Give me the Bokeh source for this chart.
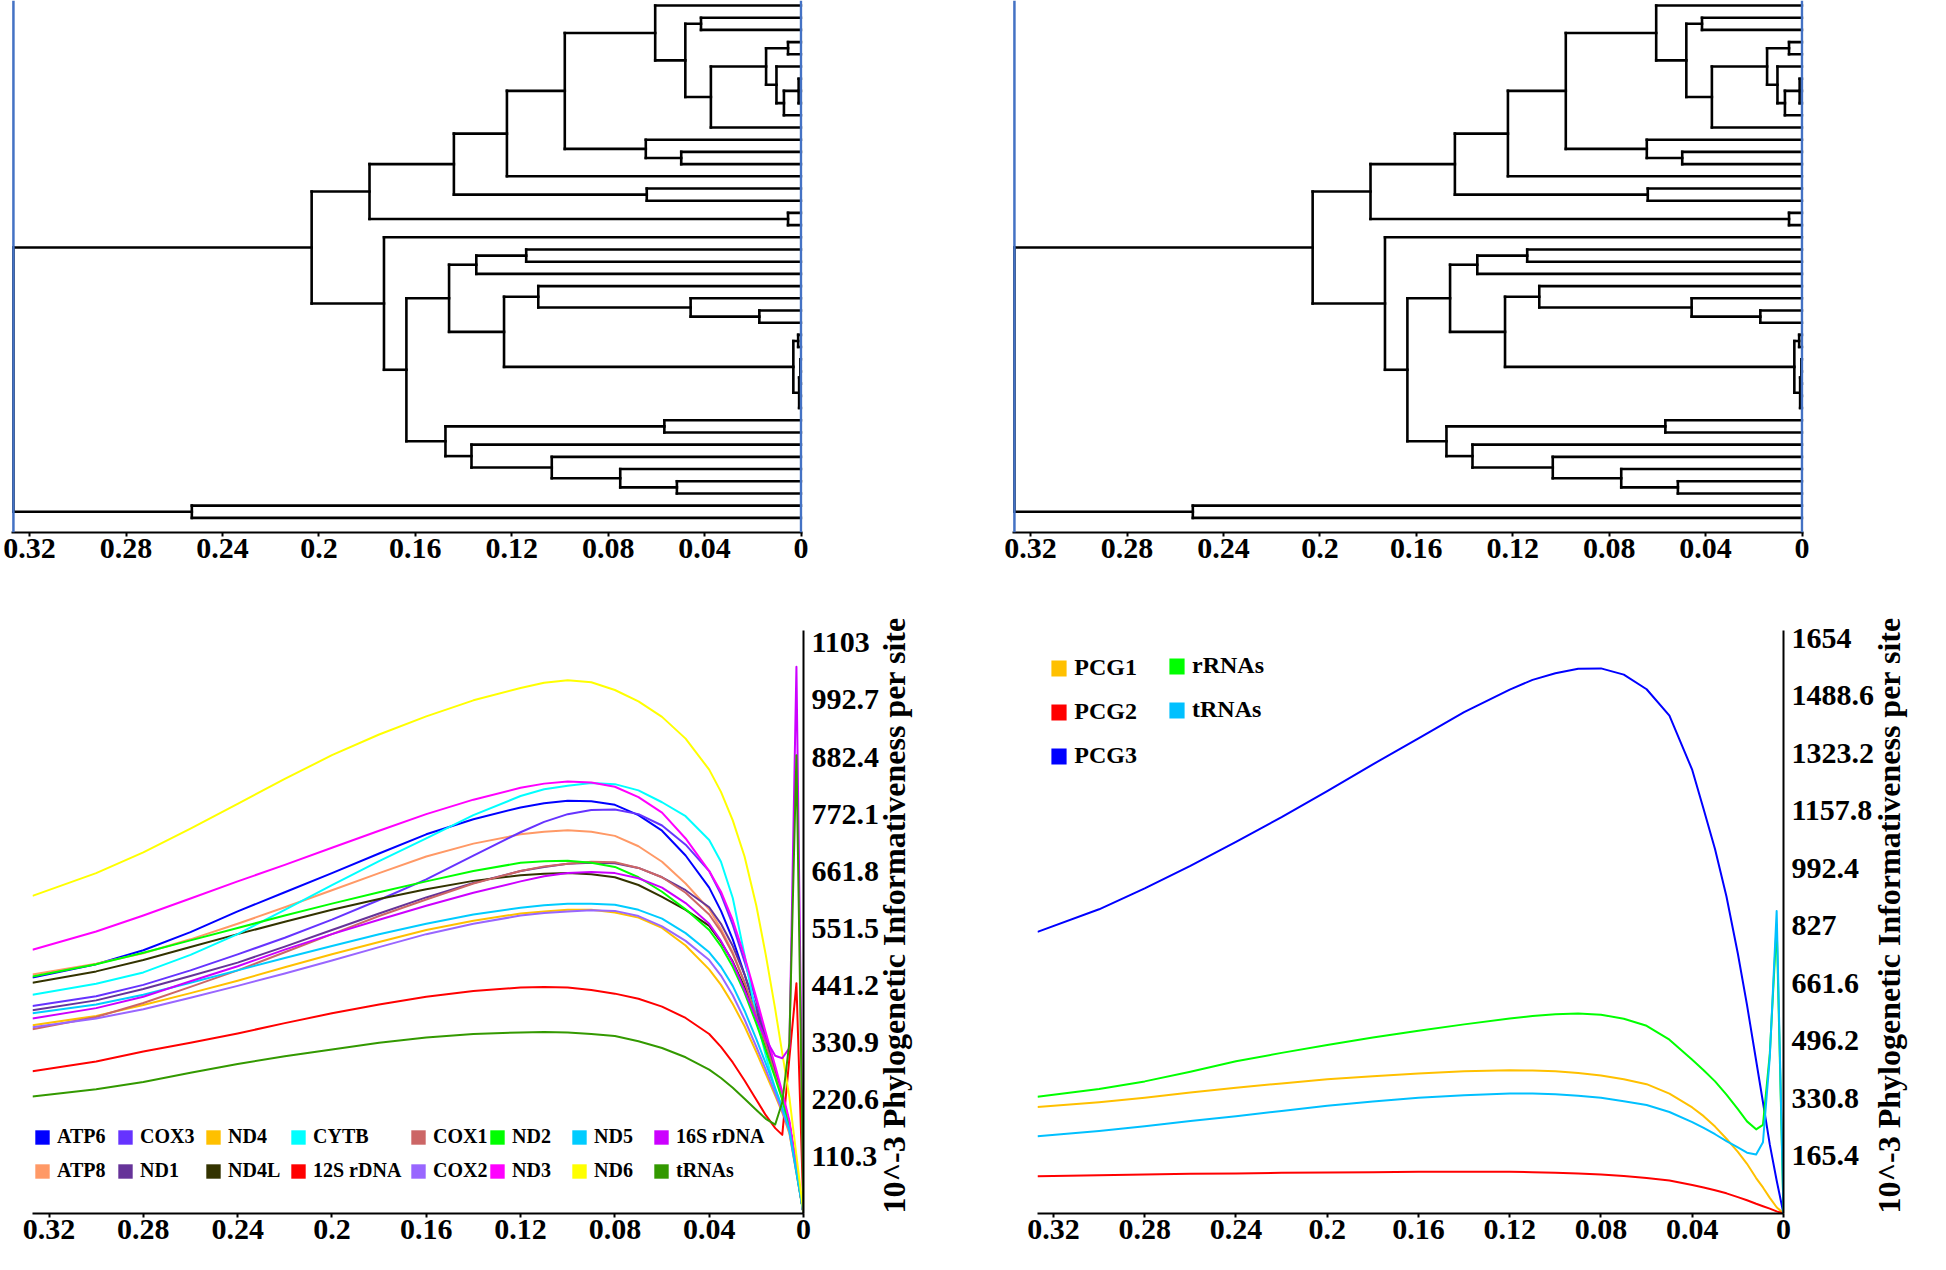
import math
from bokeh.plotting import figure
from bokeh.models import Range1d, FixedTicker, Span, Legend, LegendItem
from bokeh.layouts import column, row
from bokeh.embed import file_html
from bokeh.resources import INLINE

FONT = "Liberation Serif"

# ---------------- tree (same topology / node depths in both top panels) ----------------
node_names = ["root", "A", "B", "D", "F", "H", "I", "Ln", "M", "N", "O", "P", "Q", "R", "S",
              "J", "K", "G", "E", "C", "T", "U", "W", "Y", "X", "Z", "AB", "AC", "AA", "AD",
              "AE", "AF", "V", "AG", "AH", "AI", "AJ", "AK", "OG"]
node_heights = [0.3267, 0.203, 0.179, 0.144, 0.122, 0.098, 0.0605, 0.048, 0.0415, 0.0374, 0.0145,
                0.0054, 0.0102, 0.0071, 0.001, 0.0644, 0.0497, 0.064, 0.0054, 0.173, 0.1637,
                0.146, 0.1347, 0.114, 0.1232, 0.109, 0.0458, 0.0173, 0.0032, 0.0012, 0.0008,
                0.0003, 0.1475, 0.0567, 0.1367, 0.1034, 0.075, 0.0515, 0.2527]
node_children = [["A", "OG"], ["B", "C"], ["D", "E"], ["F", "G"], ["H", "L15"], ["I", "J"],
                 ["L1", "Ln"], ["M", "N"], ["L2", "L3"], ["O", "L11"], ["P", "Q"], ["L4", "L5"],
                 ["L6", "R"], ["S", "L10"], ["L7", "L8", "L9"], ["L12", "K"], ["L13", "L14"],
                 ["L16", "L17"], ["L18", "L19"], ["L20", "T"], ["U", "V"], ["W", "X"],
                 ["Y", "L23"], ["L21", "L22"], ["Z", "AA"], ["L24", "AB"], ["L25", "AC"],
                 ["L26", "L27"], ["AD", "AE"], ["L28", "L29"], ["AF", "L34"],
                 ["L30", "L31", "L32", "L33"], ["AG", "AH"], ["L35", "L36"], ["L37", "AI"],
                 ["L38", "AJ"], ["L39", "AK"], ["L40", "L41"], ["L42", "L43"]]

dist_ticks = [0.32, 0.28, 0.24, 0.2, 0.16, 0.12, 0.08, 0.04, 0.0]
dist_labels = ["0.32", "0.28", "0.24", "0.2", "0.16", "0.12", "0.08", "0.04", "0"]

# ---------------- phylogenetic informativeness ----------------
pi_time = [0.327, 0.30, 0.28, 0.26, 0.24, 0.22, 0.20, 0.18, 0.16, 0.14, 0.12, 0.11, 0.10, 0.09,
           0.08, 0.07, 0.06, 0.05, 0.04, 0.035, 0.03, 0.025, 0.02, 0.016, 0.012, 0.009, 0.006,
           0.003, 0.0]

atp6 = [456, 482, 509, 544, 584, 621, 658, 696, 733, 762, 785, 793, 798, 797, 790, 770, 740, 692,
        630, 585, 530, 462, 390, 330, 270, 225, 170, 85, 0]
atp8 = [462, 483, 503, 530, 560, 592, 625, 658, 690, 715, 733, 738, 741, 738, 730, 710, 680, 638,
        588, 550, 505, 447, 378, 322, 265, 222, 170, 85, 0]
cox1 = [356, 380, 407, 438, 470, 505, 540, 575, 607, 638, 662, 671, 676, 680, 679, 668, 650, 620,
        578, 545, 502, 447, 382, 327, 268, 225, 172, 86, 0]
cox2 = [360, 377, 395, 417, 440, 464, 489, 515, 540, 560, 576, 581, 584, 586, 585, 575, 555, 527,
        490, 460, 422, 375, 322, 278, 232, 198, 158, 79, 0]
cox3 = [401, 420, 442, 470, 501, 533, 568, 606, 646, 692, 737, 757, 772, 780, 781, 772, 750, 713,
        662, 617, 558, 487, 410, 345, 280, 230, 175, 88, 0]
cytb = [423, 444, 466, 500, 540, 587, 635, 681, 725, 770, 807, 820, 827, 832, 830, 818, 795, 768,
        722, 680, 610, 500, 380, 305, 240, 200, 160, 80, 0]
nd1 = [393, 412, 434, 459, 485, 516, 548, 580, 611, 639, 662, 670, 676, 678, 677, 668, 650, 625,
       592, 560, 517, 462, 397, 337, 275, 228, 175, 88, 0]
nd2 = [458, 482, 504, 528, 552, 576, 599, 621, 642, 662, 678, 681, 682, 678, 670, 650, 622, 588,
       548, 517, 477, 427, 367, 315, 262, 220, 168, 84, 0]
nd3 = [510, 545, 576, 609, 642, 674, 707, 740, 772, 800, 823, 831, 835, 833, 825, 805, 775, 725,
       662, 622, 567, 497, 417, 350, 285, 235, 180, 90, 0]
nd4 = [364, 382, 403, 426, 450, 476, 501, 525, 548, 566, 580, 584, 587, 587, 582, 572, 552, 518,
       472, 442, 405, 362, 312, 270, 228, 195, 155, 78, 0]
nd4l = [446, 468, 490, 515, 540, 564, 587, 608, 627, 643, 654, 657, 658, 656, 650, 635, 612, 587,
        556, 525, 487, 437, 377, 322, 268, 225, 172, 86, 0]
nd5 = [387, 404, 423, 446, 470, 494, 517, 540, 560, 578, 591, 596, 599, 599, 597, 587, 570, 542,
       505, 477, 440, 392, 337, 290, 242, 205, 162, 81, 0]
nd6 = [614, 658, 698, 744, 792, 840, 886, 926, 961, 992, 1016, 1026, 1031, 1027, 1012, 990, 960,
       918, 858, 815, 760, 690, 595, 500, 395, 310, 225, 112, 0]
rdna12s = [275, 294, 313, 330, 348, 368, 387, 404, 419, 430, 437, 438, 437, 432, 425, 415, 400,
           378, 347, 322, 292, 257, 220, 190, 165, 152, 300, 445, 0]
rdna16s = [377, 397, 419, 449, 478, 510, 540, 568, 595, 620, 642, 652, 658, 660, 658, 648, 630,
           600, 560, 527, 485, 432, 377, 337, 305, 300, 320, 1057, 0]
trnas = [226, 240, 254, 272, 289, 304, 317, 330, 340, 347, 350, 351, 350, 347, 343, 333, 320, 302,
         278, 262, 243, 222, 200, 183, 172, 215, 330, 886, 0]

gene_labels = ["ATP6", "ATP8", "COX3", "ND1", "ND4", "ND4L", "CYTB", "12S rDNA",
               "COX1", "COX2", "ND2", "ND3", "ND5", "ND6", "16S rDNA", "tRNAs"]
gene_values = [atp6, atp8, cox3, nd1, nd4, nd4l, cytb, rdna12s,
               cox1, cox2, nd2, nd3, nd5, nd6, rdna16s, trnas]
gene_colors = ["#0000FF", "#FF9966", "#6633FF", "#663399", "#FFC000", "#333300", "#00FFFF", "#FF0000",
               "#CC6666", "#9966FF", "#00FF00", "#FF00FF", "#00CCFF", "#FFFF00", "#CC00FF", "#339900"]
gene_ticks = [110.3, 220.6, 330.9, 441.2, 551.5, 661.8, 772.1, 882.4, 992.7, 1103.0]
gene_tick_labels = ["110.3", "220.6", "330.9", "441.2", "551.5", "661.8", "772.1", "882.4",
                    "992.7", "1103"]

pcg1 = [306, 320, 333, 348, 362, 374, 386, 395, 403, 409, 412, 411, 409, 404, 397, 386, 372, 345,
        305, 280, 250, 215, 177, 143, 102, 75, 45, 18, 0]
pcg2 = [107, 110, 112, 114, 115, 117, 118, 119, 120, 120, 120, 119, 117, 115, 112, 108, 102, 95,
        82, 75, 67, 58, 47, 38, 28, 21, 14, 6, 0]
pcg3 = [810, 875, 935, 1000, 1069, 1140, 1215, 1292, 1367, 1442, 1507, 1535, 1554, 1567, 1568,
        1550, 1508, 1432, 1276, 1163, 1048, 912, 747, 600, 440, 320, 198, 95, 0]
rrnas = [336, 358, 380, 408, 438, 462, 485, 506, 526, 544, 561, 568, 573, 575, 572, 560, 540, 500,
         442, 412, 380, 342, 300, 265, 242, 255, 460, 830, 0]
trnas_p = [222, 237, 251, 266, 280, 295, 310, 322, 333, 340, 345, 345, 343, 339, 333, 323, 312,
           292, 263, 246, 228, 208, 190, 175, 170, 205, 450, 870, 0]

part_labels = ["PCG1", "PCG2", "PCG3", "rRNAs", "tRNAs"]
part_values = [pcg1, pcg2, pcg3, rrnas, trnas_p]
part_colors = ["#FFC000", "#FF0000", "#0000FF", "#00FF00", "#00C0FF"]
part_ticks = [165.4, 330.8, 496.2, 661.6, 827.0, 992.4, 1157.8, 1323.2, 1488.6, 1654.0]
part_tick_labels = ["165.4", "330.8", "496.2", "661.6", "827", "992.4", "1157.8", "1323.2",
                    "1488.6", "1654"]

Y_TITLE = "10^-3 Phylogenetic Informativeness per site"


def tree_segments():
    height_of = dict(zip(node_names, node_heights))
    kids_of = dict(zip(node_names, node_children))
    ypos = {}
    counter = [0]

    def place(n):
        if n not in kids_of:
            counter[0] += 1
            ypos[n] = float(counter[0])
            return ypos[n]
        ys = [place(k) for k in kids_of[n]]
        ypos[n] = (ys[0] + ys[-1]) / 2.0
        return ypos[n]

    place("root")
    x0, y0, x1, y1 = [], [], [], []
    for n in node_names:
        h = height_of[n]
        ks = kids_of[n]
        x0.append(h); x1.append(h); y0.append(ypos[ks[0]]); y1.append(ypos[ks[-1]])
        for k in ks:
            x0.append(height_of.get(k, 0.0)); x1.append(h)
            y0.append(ypos[k]); y1.append(ypos[k])
    return x0, y0, x1, y1


def style_common(p):
    p.xgrid.visible = False
    p.ygrid.visible = False
    p.outline_line_color = None
    p.background_fill_color = "white"
    p.border_fill_color = "white"
    ax = p.xaxis[0]
    ax.ticker = FixedTicker(ticks=dist_ticks)
    ax.major_label_overrides = dict(zip(dist_ticks, dist_labels))
    ax.major_label_text_font = FONT
    ax.major_label_text_font_style = "bold"
    ax.major_label_text_font_size = "30px"
    ax.major_label_text_color = "black"
    ax.axis_line_color = "black"
    ax.axis_line_width = 2
    ax.major_tick_line_color = "black"
    ax.major_tick_line_width = 2
    ax.major_tick_out = 4
    ax.major_tick_in = 0
    ax.minor_tick_out = 0
    ax.minor_tick_in = 0
    ax.major_label_standoff = 2


def tree_fig(width, bl, br):
    p = figure(width=width, height=580, output_backend="svg", toolbar_location=None,
               x_range=Range1d(0.3275, -0.0006), y_range=Range1d(44.2, 0.59),
               min_border_left=bl, min_border_right=br, min_border_top=0, min_border_bottom=48,
               y_axis_location=None)
    x0, y0, x1, y1 = tree_segments()
    p.segment(x0=x0, y0=y0, x1=x1, y1=y1, line_color="black", line_width=2.6, line_cap="square")
    for loc in (node_heights[0], 0.0):
        p.add_layout(Span(location=loc, dimension="height", line_color="#4472C4", line_width=2.5))
    style_common(p)
    return p


def pi_fig(width, bl, br, ymax, ticks, tick_labels, labels, values, colors, legend_cols, font_size,
           glyph_w, glyph_h, spacing):
    p = figure(width=width, height=673, output_backend="svg", toolbar_location=None,
               x_range=Range1d(0.327, 0.0), y_range=Range1d(0, ymax),
               min_border_left=bl, min_border_right=br, min_border_top=50, min_border_bottom=40,
               y_axis_location="right")
    boxes = {}
    for lab, vals, col in zip(labels, values, colors):
        p.line(pi_time, vals, line_color=col, line_width=2, line_join="round")
        # legend swatch renderer: one zero-size box placed outside the visible ranges
        boxes[lab] = p.quad(left=[1.0], right=[1.0], top=[-ymax], bottom=[-ymax],
                            fill_color=col, line_color=None)
    style_common(p)
    ay = p.yaxis[0]
    ay.ticker = FixedTicker(ticks=ticks)
    ay.major_label_overrides = dict(zip(ticks, tick_labels))
    ay.major_label_text_font = FONT
    ay.major_label_text_font_style = "bold"
    ay.major_label_text_font_size = "30px"
    ay.major_label_text_color = "black"
    ay.axis_line_color = "black"
    ay.axis_line_width = 2
    ay.major_tick_out = 0
    ay.major_tick_in = 0
    ay.minor_tick_out = 0
    ay.minor_tick_in = 0
    ay.major_label_standoff = 8
    ay.axis_label = Y_TITLE
    ay.axis_label_text_font = FONT
    ay.axis_label_text_font_style = "bold"
    ay.axis_label_text_font_size = "32px"
    ay.axis_label_text_color = "black"
    ay.axis_label_standoff = 12
    ay.axis_label_orientation = math.pi / 2
    if "axis_label_align" in ay.properties():
        ay.axis_label_align = "start"
    for names, loc in legend_cols:
        lg = Legend(items=[LegendItem(label=n, renderers=[boxes[n]]) for n in names],
                    location=loc, orientation="vertical", padding=0, margin=0, spacing=spacing,
                    glyph_width=glyph_w, glyph_height=glyph_h, label_standoff=6,
                    label_text_font=FONT, label_text_font_style="bold",
                    label_text_font_size=font_size, label_text_color="black",
                    border_line_color=None, background_fill_alpha=0)
        p.add_layout(lg)
    return p


tl = tree_fig(980, 11, 178)
tr = tree_fig(948, 32, 125)

bl_cols = [(["ATP6", "ATP8"], (1, 31)), (["COX3", "ND1"], (84, 31)),
           (["ND4", "ND4L"], (172, 31)), (["CYTB", "12S rDNA"], (257, 31)),
           (["COX1", "COX2"], (377, 31)), (["ND2", "ND3"], (456, 31)),
           (["ND5", "ND6"], (538, 31)), (["16S rDNA", "tRNAs"], (620, 31))]
bl = pi_fig(980, 32, 177, 1127, gene_ticks, gene_tick_labels, gene_labels, gene_values,
            gene_colors, bl_cols, "20px", 18, 18, 11)

br_cols = [(["PCG1", "PCG2", "PCG3"], (12.3, 444)), (["rRNAs", "tRNAs"], (130, 490))]
br = pi_fig(948, 57, 136, 1677, part_ticks, part_tick_labels, part_labels, part_values,
            part_colors, br_cols, "24px", 19, 20, 17)

layout = column(row(tl, tr), row(bl, br))
open("out.html", "w").write(file_html(layout, INLINE))
